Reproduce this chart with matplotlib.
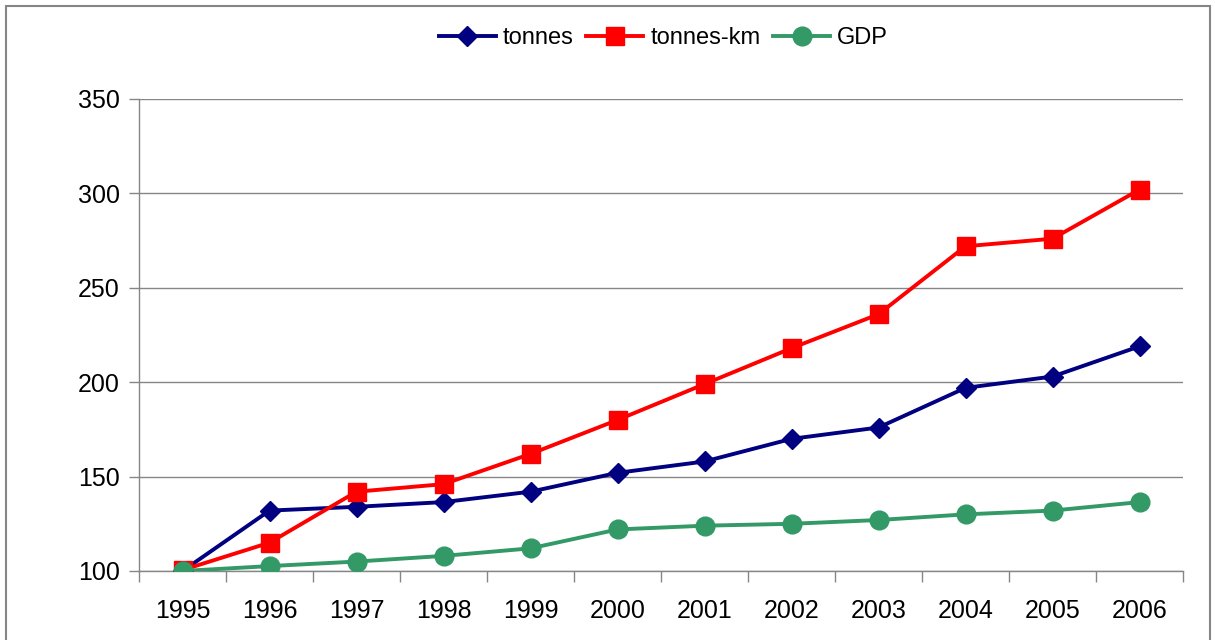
import numpy as np
import matplotlib.pyplot as plt
from matplotlib.patches import Rectangle

plt.rcParams['font.family'] = ['Liberation Sans', 'DejaVu Sans']

years = ['1995', '1996', '1997', '1998', '1999', '2000',
         '2001', '2002', '2003', '2004', '2005', '2006']
tonnes = [100, 132, 134, 136.5, 142, 152, 158, 170, 176, 197, 203, 219]
tonnes_km = [100.5, 115, 142, 146, 162, 180, 199, 218, 236, 272, 276, 302]
gdp = [100, 102.6, 105, 108, 112, 122, 124, 125, 127, 130, 132, 136.5]

grid_col = '#868686'

fig = plt.figure(figsize=(12.15, 6.4), dpi=100)
ax = fig.add_axes([139 / 1215, 69 / 640, 1044 / 1215, 472 / 640])

# outer chart frame
fig.patches.append(Rectangle((6 / 1215, -0.05), 1204 / 1215, 1.05 - 6 / 640,
                             transform=fig.transFigure, fill=False,
                             edgecolor=grid_col, linewidth=1.5))

x = np.arange(len(years))
ax.plot(x, tonnes, color='#000080', lw=2.8, marker='D', ms=10.5, label='tonnes', zorder=3)
ax.plot(x, tonnes_km, color='#FF0000', lw=2.8, marker='s', ms=13.5, label='tonnes-km', zorder=3)
ax.plot(x, gdp, color='#339966', lw=2.8, marker='o', ms=13.5, label='GDP', zorder=3)

ax.set_xlim(-0.5, len(years) - 0.5)
ax.set_ylim(100, 350)
ax.set_yticks(range(100, 351, 50))
ax.set_xticks(x)
ax.set_xticklabels(years)
ax.set_xticks(np.arange(-0.5, len(years), 1), minor=True)
ax.tick_params(axis='x', which='major', length=0, pad=20, labelsize=18)
ax.tick_params(axis='x', which='minor', length=8, color=grid_col, width=1)
ax.tick_params(axis='y', length=7, color=grid_col, width=1, pad=7, labelsize=18)

ax.grid(axis='y', color=grid_col, lw=1)
ax.set_axisbelow(True)
for s in ['top', 'right']:
    ax.spines[s].set_visible(False)
for s in ['left', 'bottom']:
    ax.spines[s].set_color(grid_col)
    ax.spines[s].set_linewidth(1)

fig.legend(loc='center', bbox_to_anchor=(0.546, 1 - 38 / 640), ncol=3, frameon=False,
           fontsize=17, handlelength=2.4, handletextpad=0.3, columnspacing=0.55)

fig.savefig('out.png', dpi=100)
